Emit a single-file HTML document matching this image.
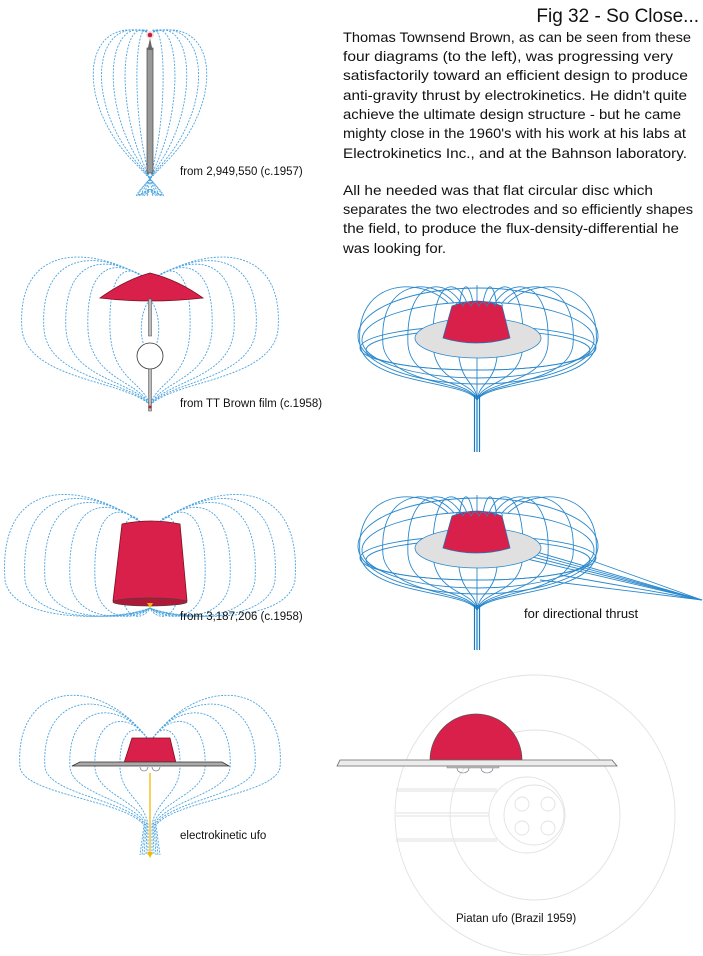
<!DOCTYPE html>
<html><head><meta charset="utf-8"><style>
html,body{margin:0;padding:0;background:#fff}
svg{display:block}
text{font-family:"Liberation Sans",sans-serif;fill:#111}
</style></head><body>
<svg width="703" height="956" viewBox="0 0 703 956" xmlns="http://www.w3.org/2000/svg">
<defs>
<g id="d1" fill="none" stroke="#4aa3e0" stroke-width="0.9" stroke-dasharray="2 1.3">
<path d="M150,33 C135,12 132,100 145.5,160 S150,185 150,190"/>
<path d="M150,33 C121,12 116,100 141.9,160 S150,185 150,190"/>
<path d="M150,33 C107,12 100,100 138.3,160 S150,185 150,190"/>
<path d="M150,33 C93,12 84,100 134.7,160 S150,185 150,190"/>
<path d="M150,33 C82,12 74,100 132,160 S150,185 150,190"/>
</g>
<g id="d2" fill="none" stroke="#4aa3e0" stroke-width="0.9" stroke-dasharray="2 1.3">
<path d="M145,278 C130,265 108,264 110,330 C112,380 142,380 150,405"/>
<path d="M145,278 C119,259.5 84.9,259.6 88,330 C91.1,380 137.6,380 150,405"/>
<path d="M145,278 C108,254 61.8,255.2 66,330 C70.2,380 133.2,380 150,405"/>
<path d="M145,278 C97,248.5 38.7,250.8 44,330 C49.3,380 128.8,380 150,405"/>
<path d="M145,278 C86,243 15.6,246.4 22,330 C28.4,380 124.4,380 150,405"/>
<path d="M150,300 C140,310 138,340 147,350"/>
</g>
<g id="d4" fill="none" stroke="#4aa3e0" stroke-width="0.9" stroke-dasharray="2 1.3">
<path d="M140,522 C135,513 118.5,507.5 120,580 C121.5,625 144,620 150,608"/>
<path d="M140,522 C122.5,505.5 92.25,501.25 95,580 C97.75,625 139,620 150,608"/>
<path d="M140,522 C110,498 66,495 70,580 C74,625 134,620 150,608"/>
<path d="M140,522 C97.5,490.5 39.75,488.75 45,580 C50.25,625 129,620 150,608"/>
<path d="M140,522 C87.5,484.5 18.75,483.75 25,580 C31.25,625 125,620 150,608"/>
<path d="M140,522 C77.5,478.5 -2.25,478.75 5,580 C11.75,625 121,620 150,608"/>
</g>
<g id="d6" fill="none" stroke="#4aa3e0" stroke-width="0.9" stroke-dasharray="2 1.3">
<path d="M147,738 C138,723 118.5,726.5 120,768 C121.5,795 144,800 148,825 L148,855"/>
<path d="M147,738 C128,710.5 92.25,715.25 95,768 C97.75,795 139,800 147,825 L146,855"/>
<path d="M147,738 C118,698 66,704 70,768 C74,795 134,800 146,825 L144,855"/>
<path d="M147,738 C108,685.5 39.75,692.75 45,768 C50.25,795 129,800 145,825 L142,855"/>
<path d="M147,738 C98,673 13.5,681.5 20,768 C26.5,795 124,800 144,825 L140,855"/>
</g>
<g id="t3" fill="none" stroke="#2a88cc" stroke-width="0.9">
<ellipse cx="478" cy="336" rx="120" ry="48"/>
<ellipse cx="478" cy="340" rx="116" ry="38"/>
<ellipse cx="478" cy="348" rx="118" ry="22"/>
<ellipse cx="478" cy="350" rx="112" ry="20"/>
<path d="M483,303 C488,275 499,280 498,345 C497,385 480,380 477,400"/>
<path d="M489,303 C500,275 525,280 523,345 C521,385 482,380 477,400"/>
<path d="M495,303 C513,275 551,280 548,345 C544,385 485,380 477,400"/>
<path d="M502,303 C525,275 578,280 573,345 C568,385 487,380 477,400"/>
<path d="M508,303 C537,275 602,280 596,345 C590,385 490,380 477,400"/>
<path d="M473,303 C468,275 457,280 458,345 C459,385 476,380 477,400"/>
<path d="M467,303 C456,275 431,280 433,345 C435,385 474,380 477,400"/>
<path d="M461,303 C443,275 405,280 408,345 C412,385 471,380 477,400"/>
<path d="M454,303 C431,275 378,280 383,345 C388,385 469,380 477,400"/>
<path d="M448,303 C419,275 354,280 360,345 C366,385 466,380 477,400"/>
<path d="M477,285 L477,400"/>
</g>
<g id="cup">
<ellipse cx="478" cy="338" rx="63" ry="20" fill="#e0e0e0" stroke="#2a88cc" stroke-width="0.8"/>
<path d="M452,306 L443,338 Q476,348 510,338 L502,306 Q477,296 452,306 Z" fill="#d8204a" stroke="#2a6fb0" stroke-width="0.8"/>
<path d="M455,306 q4,-8 8,0 q4,-8 8,0 q4,-8 8,0 q4,-8 8,0 q4,-8 8,0 q4,-8 8,0" fill="none" stroke="#2a88cc" stroke-width="0.7"/>
</g>
</defs>

<text x="699" y="22" font-size="19" text-anchor="end">Fig 32 - So Close...</text>
<g font-size="14">
<text x="343" y="42" textLength="348" lengthAdjust="spacingAndGlyphs">Thomas Townsend Brown, as can be seen from these</text>
<text x="343" y="61" textLength="330" lengthAdjust="spacingAndGlyphs">four diagrams (to the left), was progressing very</text>
<text x="343" y="80" textLength="345" lengthAdjust="spacingAndGlyphs">satisfactorily toward an efficient design to produce</text>
<text x="343" y="100" textLength="344" lengthAdjust="spacingAndGlyphs">anti-gravity thrust by electrokinetics. He didn't quite</text>
<text x="343" y="119" textLength="338" lengthAdjust="spacingAndGlyphs">achieve the ultimate design structure - but he came</text>
<text x="343" y="138" textLength="343" lengthAdjust="spacingAndGlyphs">mighty close in the 1960's with his work at his labs at</text>
<text x="343" y="158" textLength="344" lengthAdjust="spacingAndGlyphs">Electrokinetics Inc., and at the Bahnson laboratory.</text>
<text x="343" y="195" textLength="310" lengthAdjust="spacingAndGlyphs">All he needed was that flat circular disc which</text>
<text x="343" y="214" textLength="350" lengthAdjust="spacingAndGlyphs">separates the two electrodes and so efficiently shapes</text>
<text x="343" y="233" textLength="336" lengthAdjust="spacingAndGlyphs">the field, to produce the flux-density-differential he</text>
<text x="343" y="253" textLength="103" lengthAdjust="spacingAndGlyphs">was looking for.</text>
</g>

<use href="#d1"/><use href="#d1" transform="translate(300,0) scale(-1,1)"/>
<rect x="147" y="48" width="6" height="125" fill="#999" stroke="#444" stroke-width="0.7"/>
<path d="M150,38 L147.5,50 L152.5,50 Z" fill="#666"/>
<circle cx="150" cy="35" r="4" fill="#fbe0e0"/>
<circle cx="150" cy="35" r="2.3" fill="#c0203a"/>
<text x="180" y="175" font-size="11.5">from 2,949,550 (c.1957)</text>

<use href="#d2"/><use href="#d2" transform="translate(300,0) scale(-1,1)"/>
<path d="M100,298 Q125,280 150,273 Q178,280 203,298 Q150,304 100,298 Z" fill="#d8204a" stroke="#7a1020" stroke-width="0.8"/>
<rect x="148.5" y="299" width="3" height="37" fill="#bbb" stroke="#444" stroke-width="0.5"/>
<circle cx="150" cy="356" r="13" fill="#fff" stroke="#333" stroke-width="0.8"/>
<rect x="148.5" y="369" width="3" height="42" fill="#bbb" stroke="#444" stroke-width="0.5"/>
<circle cx="150" cy="407" r="1.5" fill="#c0203a"/>
<text x="180" y="407" font-size="11.5">from TT Brown film (c.1958)</text>

<use href="#t3"/>
<use href="#cup"/>
<g stroke="#1a78c2" stroke-width="1.2"><line x1="474.5" y1="395" x2="474.5" y2="452"/><line x1="477" y1="395" x2="477" y2="452"/><line x1="479.5" y1="395" x2="479.5" y2="452"/></g>

<use href="#d4"/><use href="#d4" transform="translate(300,0) scale(-1,1)"/>
<path d="M122,524 L113,601 Q150,610 187,601 L180,524 Q151,518 122,524 Z" fill="#d8204a" stroke="#7a1020" stroke-width="0.8"/>
<ellipse cx="150" cy="602" rx="37" ry="4" fill="#b01838" stroke="#444" stroke-width="0.7"/>
<path d="M147,603 L153,603 L150,608 Z" fill="#f5b800"/>
<text x="180" y="620" font-size="11.5">from 3,187,206 (c.1958)</text>

<use href="#t3" transform="translate(0,210)"/>
<g fill="none" stroke="#2a88cc" stroke-width="0.9">
<path d="M495,540 L702,600"/><path d="M500,545 L702,600"/><path d="M505,550 L702,600"/><path d="M510,555 L702,600"/>
<path d="M590,560 L702,600"/><path d="M560,575 L702,600"/><path d="M540,580 L702,600"/>
</g>
<use href="#cup" transform="translate(0,210)"/>
<g stroke="#1a78c2" stroke-width="1.2"><line x1="474.5" y1="605" x2="474.5" y2="650"/><line x1="477" y1="605" x2="477" y2="650"/><line x1="479.5" y1="605" x2="479.5" y2="650"/></g>
<text x="524" y="618" font-size="13">for directional thrust</text>

<use href="#d6"/><use href="#d6" transform="translate(300,0) scale(-1,1)"/>
<path d="M132,738 L124,763 L176,763 L170,738 Z" fill="#d8204a" stroke="#7a1020" stroke-width="0.8"/>
<path d="M72,766 L80,762 L222,762 L229,766 Z" fill="#aaa" stroke="#333" stroke-width="0.8"/>
<path d="M140,767 a4,4 0 0 0 8,0 M152,767 a4,4 0 0 0 8,0" fill="none" stroke="#555" stroke-width="0.6"/>
<line x1="150" y1="773" x2="150" y2="853" stroke="#f5b800" stroke-width="1.3"/>
<path d="M147,852 L153,852 L150,858 Z" fill="#f5b800"/>
<text x="180" y="839" font-size="11.5">electrokinetic ufo</text>

<g fill="none" stroke="#e2e2e2" stroke-width="0.9">
<circle cx="535" cy="815" r="140"/>
<circle cx="535" cy="815" r="85"/>
<path d="M489,815 A38,38 0 1 1 565,815 A38,38 0 1 1 489,815"/>
<circle cx="534" cy="815" r="30"/>
<circle cx="522" cy="804" r="7"/><circle cx="548" cy="804" r="7"/><circle cx="522" cy="828" r="7"/><circle cx="548" cy="828" r="7"/>
<path d="M396,789 L497,789 M396,791 L497,791 M396,813 L489,813 M396,816 L489,816 M396,839 L497,839 M396,841 L497,841"/>
</g>
<path d="M430,760 A46,46 0 0 1 522,760 Z" fill="#d8204a" stroke="#555" stroke-width="0.7"/>
<path d="M337,766 L340,760 L612,760 L617,766 Z" fill="#ececec" stroke="#666" stroke-width="0.8"/>
<rect x="447" y="766" width="52" height="2" fill="#bbb" stroke="#777" stroke-width="0.4"/>
<path d="M457,768 a6,5 0 0 0 12,0 M481,768 a6,5 0 0 0 12,0" fill="none" stroke="#667" stroke-width="0.6"/>
<text x="456" y="922" font-size="11.5">Piatan ufo (Brazil 1959)</text>
</svg>
</body></html>
